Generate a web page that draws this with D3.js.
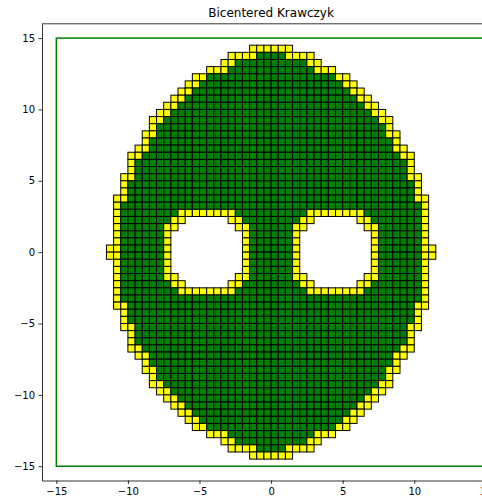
<!DOCTYPE html>
<html>
<head>
<meta charset="utf-8">
<script src="https://cdn.jsdelivr.net/npm/d3@7"></script>
<style>
  html, body { margin: 0; padding: 0; background: #fff; }
  svg { display: block; }
  text { font-family: "DejaVu Sans", sans-serif; }
</style>
</head>
<body>
<script>
// Paving boxes: upper-left quarter of the grid, one string per row from the top.
// '.' = no box, 'Y' = boundary box, 'G' = inner box.
// Columns run from x = -11.5 towards 0, rows from y = 14.5 downwards, step 0.5.
const quarterRows = [
  "....................YYY",
  ".................YYYYGG",
  "................YYGGGGG",
  "..............YYYGGGGGG",
  "............YYGGGGGGGGG",
  "...........YYGGGGGGGGGG",
  "..........YYGGGGGGGGGGG",
  ".........YYGGGGGGGGGGGG",
  "........YYGGGGGGGGGGGGG",
  ".......YYGGGGGGGGGGGGGG",
  "......YYGGGGGGGGGGGGGGG",
  "......YGGGGGGGGGGGGGGGG",
  ".....YYGGGGGGGGGGGGGGGG",
  ".....YGGGGGGGGGGGGGGGGG",
  "....YYGGGGGGGGGGGGGGGGG",
  "...YYGGGGGGGGGGGGGGGGGG",
  "...YGGGGGGGGGGGGGGGGGGG",
  "...YGGGGGGGGGGGGGGGGGGG",
  "..YYGGGGGGGGGGGGGGGGGGG",
  "..YGGGGGGGGGGGGGGGGGGGG",
  "..YGGGGGGGGGGGGGGGGGGGG",
  ".YYGGGGGGGGGGGGGGGGGGGG",
  ".YGGGGGGGGGGGGGGGGGGGGG",
  ".YGGGGGGGGYYYYYYYYGGGGG",
  ".YGGGGGGGYY......YYGGGG",
  ".YGGGGGGYY........YYGGG",
  ".YGGGGGGY..........YGGG",
  ".YGGGGGGY..........YGGG",
  "YYGGGGGGY..........YGGG"
];
const gridLeft = -11.5;   // x of the first column
const gridTop = 14.5;     // y of the first row
const cellSize = 0.5;     // box width and height

// Outer frame of the search domain
const frameX = [-15, 15];
const frameY = [-15, 15];

const xDomain = [-16, 16];
const yDomain = [-16, 16];
const xTicks = [-15, -10, -5, 0, 5, 10, 15];
const yTicks = [-15, -10, -5, 0, 5, 10, 15];
const title = "Bicentered Krawczyk";

const fillOf = { Y: "#ffff00", G: "#008000" };

// Expand the quarter to the full paving (the set is symmetric in x and y)
const nQ = quarterRows.length;          // rows in the upper half
const wQ = quarterRows[0].length;       // columns in the left half
const boxes = [];
for (let j = 0; j < 2 * nQ; j++) {
  const src = quarterRows[j < nQ ? j : 2 * nQ - 1 - j];
  for (let c = 0; c < 2 * wQ; c++) {
    const ch = src[c < wQ ? c : 2 * wQ - 1 - c];
    if (ch === ".") continue;
    const x0 = gridLeft + c * cellSize;
    const y1 = gridTop - j * cellSize;
    boxes.push({ x0, x1: x0 + cellSize, y0: y1 - cellSize, y1, kind: ch });
  }
}

const W = 482, H = 499;
const plot = { left: 42, right: 500.2, top: 23.8, bottom: 480.5 };

const x = d3.scaleLinear().domain(xDomain).range([plot.left, plot.right]);
const y = d3.scaleLinear().domain(yDomain).range([plot.bottom, plot.top]);

const svg = d3.select("body").append("svg")
  .attr("width", W).attr("height", H);

// Search domain frame
svg.append("rect")
  .attr("x", x(frameX[0])).attr("y", y(frameY[1]))
  .attr("width", x(frameX[1]) - x(frameX[0]))
  .attr("height", y(frameY[0]) - y(frameY[1]))
  .attr("fill", "none").attr("stroke", "#008000").attr("stroke-width", 1.5);

// Boxes
svg.append("g").selectAll("rect").data(boxes).join("rect")
  .attr("x", d => x(d.x0)).attr("y", d => y(d.y1))
  .attr("width", d => x(d.x1) - x(d.x0))
  .attr("height", d => y(d.y0) - y(d.y1))
  .attr("fill", d => fillOf[d.kind])
  .attr("stroke", "#000").attr("stroke-width", 1);

// Axes
const fmt = d3.format("d");
const xAxis = d3.axisBottom(x).tickValues(xTicks).tickFormat(fmt)
  .tickSize(3.5).tickSizeOuter(0).tickPadding(3.5);
const yAxis = d3.axisLeft(y).tickValues(yTicks).tickFormat(fmt)
  .tickSize(3.5).tickSizeOuter(0).tickPadding(3.5);

const gx = svg.append("g").attr("transform", `translate(0,${plot.bottom})`).call(xAxis);
const gy = svg.append("g").attr("transform", `translate(${plot.left},0)`).call(yAxis);
[gx, gy].forEach(g => {
  g.selectAll("text").attr("font-size", 10).attr("fill", "#000")
    .attr("font-family", "DejaVu Sans, sans-serif");
  g.selectAll("line").attr("stroke", "#000").attr("stroke-width", 0.8);
  g.select(".domain").attr("stroke", "#000").attr("stroke-width", 0.8);
});

// Top spine
svg.append("line")
  .attr("x1", plot.left).attr("x2", plot.right)
  .attr("y1", plot.top).attr("y2", plot.top)
  .attr("stroke", "#000").attr("stroke-width", 0.8);

// Title
svg.append("text")
  .attr("x", (plot.left + plot.right) / 2).attr("y", 16.5)
  .attr("text-anchor", "middle").attr("font-size", 12).attr("fill", "#000")
  .text(title);
</script>
</body>
</html>
